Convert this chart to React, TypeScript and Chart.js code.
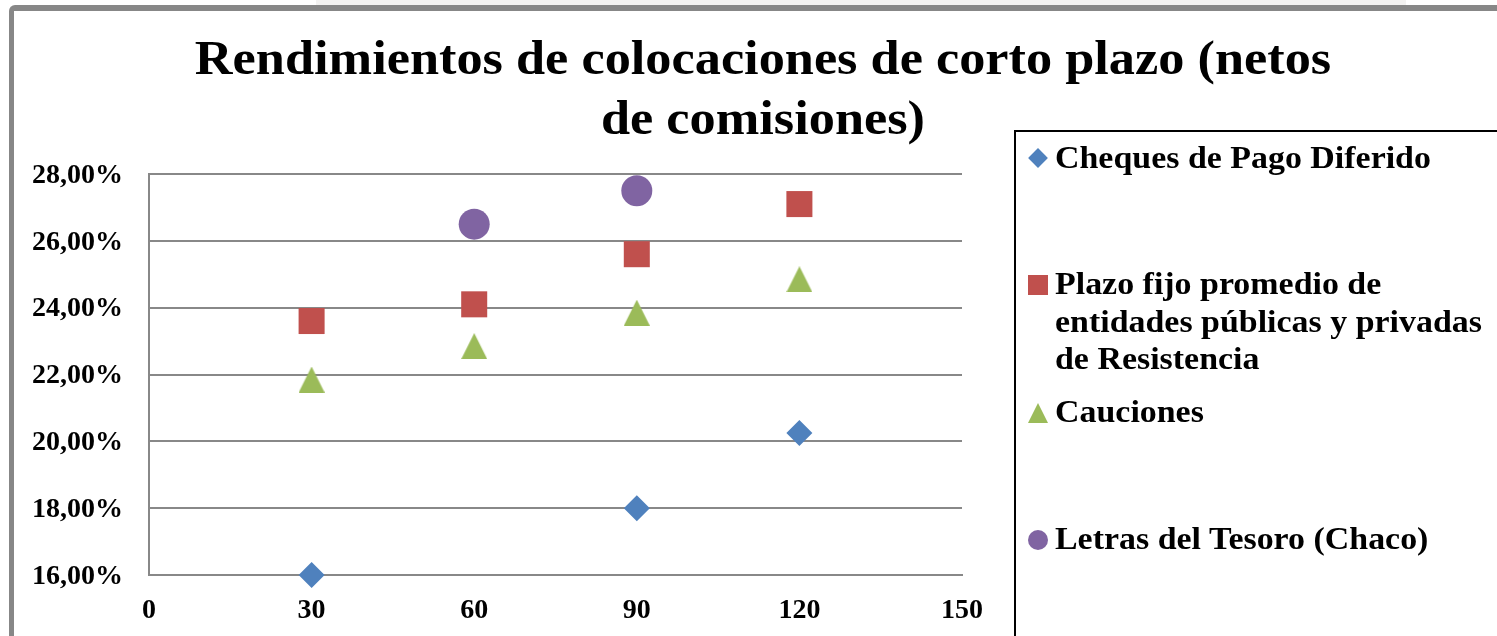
import React, { useEffect, useRef } from 'react';
import { Chart, registerables } from 'chart.js';

Chart.register(...registerables);

const titleLines = ['Rendimientos de colocaciones de corto plazo (netos', 'de comisiones)'];
const xValues = [30, 60, 90, 120];
const seriesLabels = [
  'Cheques de Pago Diferido',
  'Plazo fijo promedio de\nentidades públicas y privadas\nde Resistencia',
  'Cauciones',
  'Letras del Tesoro (Chaco)',
];
const chequesValues: (number | null)[] = [16.0, null, 18.0, 20.25];
const plazoFijoValues: (number | null)[] = [23.6, 24.1, 25.6, 27.1];
const caucionesValues: (number | null)[] = [21.85, 22.85, 23.85, 24.85];
const letrasValues: (number | null)[] = [null, 26.5, 27.5, null];
const xAxisMin = 0;
const xAxisMax = 150;
const xAxisStep = 30;
const yAxisMin = 16;
const yAxisMax = 28;
const yAxisStep = 2;
const seriesColors = ['#4F81BD', '#C0504D', '#9BBB59', '#8064A2'];

const FONT = '"Liberation Serif", "Times New Roman", serif';

function toPoints(vals: (number | null)[]) {
  return xValues
    .map((x, i) => ({ x, y: vals[i] }))
    .filter((p) => p.y !== null) as { x: number; y: number }[];
}

function makeTriangle(color: string, w: number, h: number) {
  const c = document.createElement('canvas');
  c.width = w;
  c.height = h;
  const g = c.getContext('2d')!;
  g.fillStyle = color;
  g.beginPath();
  g.moveTo(w / 2, 0);
  g.lineTo(w, h);
  g.lineTo(0, h);
  g.closePath();
  g.fill();
  return c;
}

export default function App() {
  const canvasRef = useRef<HTMLCanvasElement | null>(null);

  useEffect(() => {
    if (!canvasRef.current) return;
    const tri = makeTriangle(seriesColors[2], 26, 26);
    const titlePlugin = {
      id: 'customTitle',
      afterDraw(chart: any) {
        const ctx = chart.ctx as CanvasRenderingContext2D;
        ctx.save();
        ctx.fillStyle = '#000';
        ctx.font = `bold 48px ${FONT}`;
        ctx.textAlign = 'center';
        ctx.textBaseline = 'alphabetic';
        const baselines = [74, 134];
        titleLines.forEach((line, i) => {
          ctx.save();
          ctx.translate(763, baselines[i]);
          ctx.scale(1.09, 1);
          ctx.fillText(line, 0, 0);
          ctx.restore();
        });
        ctx.restore();
      },
    };
    const common = { clip: false as any, borderWidth: 0 };
    const chart = new Chart(canvasRef.current, {
      type: 'scatter',
      data: {
        datasets: [
          {
            ...common,
            label: seriesLabels[0],
            data: toPoints(chequesValues),
            pointStyle: 'rectRot',
            pointRadius: 13,
            pointHoverRadius: 13,
            backgroundColor: seriesColors[0],
            borderColor: seriesColors[0],
          },
          {
            ...common,
            label: seriesLabels[1].replace(/\n/g, ' '),
            data: toPoints(plazoFijoValues),
            pointStyle: 'rect',
            pointRadius: 18.4,
            pointHoverRadius: 18.4,
            backgroundColor: seriesColors[1],
            borderColor: seriesColors[1],
          },
          {
            ...common,
            label: seriesLabels[2],
            data: toPoints(caucionesValues),
            pointStyle: tri as any,
            pointRadius: 13,
            pointHoverRadius: 13,
            backgroundColor: seriesColors[2],
            borderColor: seriesColors[2],
          },
          {
            ...common,
            label: seriesLabels[3],
            data: toPoints(letrasValues),
            pointStyle: 'circle',
            pointRadius: 15.5,
            pointHoverRadius: 15.5,
            backgroundColor: seriesColors[3],
            borderColor: seriesColors[3],
          },
        ],
      },
      options: {
        animation: false,
        responsive: true,
        maintainAspectRatio: false,
        events: [],
        layout: { padding: { left: 0, top: 174, right: 535, bottom: 0 } },
        plugins: {
          legend: { display: false },
          title: { display: false },
          tooltip: { enabled: false },
        },
        scales: {
          x: {
            type: 'linear',
            min: xAxisMin,
            max: xAxisMax,
            afterFit: (s: any) => {
              s.height = 61;
            },
            ticks: {
              stepSize: xAxisStep,
              color: '#000',
              padding: 19,
              font: { family: FONT, size: 28, weight: 'bold' },
            },
            grid: { display: false, drawTicks: false },
            border: { display: true, color: '#888888', width: 2 },
          },
          y: {
            type: 'linear',
            min: yAxisMin,
            max: yAxisMax,
            afterFit: (s: any) => {
              s.width = 149;
            },
            ticks: {
              stepSize: yAxisStep,
              color: '#000',
              padding: 26,
              labelOffset: 1.5,
              font: { family: FONT, size: 28, weight: 'bold' },
              callback: (v: any) => Number(v).toFixed(2).replace('.', ',') + '%',
            },
            grid: { color: '#888888', lineWidth: 2, drawTicks: false },
            border: { display: true, color: '#888888', width: 2 },
          },
        },
      },
      plugins: [titlePlugin],
    });
    return () => chart.destroy();
  }, []);

  const legendTops = [139.4, 265.4, 393.4, 520.4];
  const markerCenters = [158, 285, 413, 540];

  const marker = (i: number) => {
    const cy = markerCenters[i];
    const base: React.CSSProperties = { position: 'absolute' };
    if (i === 0)
      return (
        <div
          key={'m' + i}
          style={{ ...base, left: 1031, top: cy - 7, width: 14, height: 14, background: seriesColors[0], transform: 'rotate(45deg)' }}
        />
      );
    if (i === 1)
      return <div key={'m' + i} style={{ ...base, left: 1028, top: cy - 10, width: 20, height: 20, background: seriesColors[1] }} />;
    if (i === 2)
      return (
        <div
          key={'m' + i}
          style={{
            ...base,
            left: 1028,
            top: cy - 10,
            width: 0,
            height: 0,
            borderLeft: '10px solid transparent',
            borderRight: '10px solid transparent',
            borderBottom: `20px solid ${seriesColors[2]}`,
          }}
        />
      );
    return (
      <div key={'m' + i} style={{ ...base, left: 1028, top: cy - 10, width: 20, height: 20, borderRadius: '50%', background: seriesColors[3] }} />
    );
  };

  return (
    <div style={{ position: 'absolute', left: 0, top: 0, width: 1497, height: 636, overflow: 'hidden', background: '#fff' }}>
      <div style={{ position: 'absolute', left: 316, top: 0, width: 1090, height: 5, background: '#f3f2f1' }} />
      <div
        style={{
          position: 'absolute',
          left: 9,
          top: 5,
          width: 1700,
          height: 900,
          borderTop: '6px solid #878787',
          borderLeft: '5px solid #878787',
          borderTopLeftRadius: 6,
          boxSizing: 'border-box',
        }}
      />
      <div style={{ position: 'absolute', left: 0, top: 0, width: 1497, height: 636 }}>
        <canvas ref={canvasRef} />
      </div>
      <div
        style={{
          position: 'absolute',
          left: 1014,
          top: 130,
          width: 700,
          height: 700,
          border: '2px solid #000',
          boxSizing: 'border-box',
          background: 'transparent',
        }}
      />
      {seriesLabels.map((lab, i) => (
        <div
          key={'t' + i}
          style={{
            position: 'absolute',
            left: 1055,
            top: legendTops[i],
            fontFamily: FONT,
            fontWeight: 'bold',
            fontSize: 32,
            lineHeight: '37.5px',
            whiteSpace: 'pre',
            color: '#000',
            transform: 'scaleX(1.06)',
            transformOrigin: 'left top',
          }}
        >
          {lab}
        </div>
      ))}
      {seriesLabels.map((_, i) => marker(i))}
    </div>
  );
}
